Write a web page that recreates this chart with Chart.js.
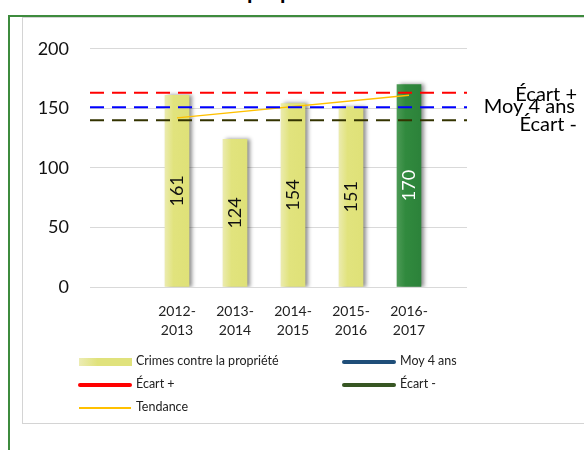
<!DOCTYPE html>
<html>
<head>
<meta charset="utf-8">
<script src="https://cdn.jsdelivr.net/npm/chart.js@4.4.1/dist/chart.umd.min.js"></script>
<style>
  body { margin: 0; width: 584px; height: 450px; overflow: hidden; background: #fff; position: relative; font-family: Lato, sans-serif; }
  #title { position: absolute; top: -20px; left: 247px; font: bold 22px/22px Lato, sans-serif; color: #000; white-space: nowrap; }
  #frame { position: absolute; left: 8px; top: 15px; width: 620px; height: 480px; border: 2px solid #3d8b3d; }
  #box { position: absolute; left: 22px; top: 17px; width: 620px; height: 405px; border: 1.5px solid #d4d4d4; }
  #wrap { position: absolute; left: 22px; top: 17px; width: 562px; height: 340px; }
  .item { position: absolute; font-size: 12.5px; line-height: 16px; color: #222; white-space: nowrap; }
  .sw { position: absolute; }
</style>
</head>
<body>
<div id="title">propriété</div>
<div id="frame"></div>
<div id="box"></div>
<div id="wrap"><canvas id="chart" width="562" height="340"></canvas></div>
<div id="legend"></div>
<script>
const categories = ["2012-2013", "2013-2014", "2014-2015", "2015-2016", "2016-2017"];
const crimes = [161, 124, 154, 151, 170];
const moy4ans = 151;
const ecartPlus = 163;
const ecartMoins = 140;
const tendance = [142, 161];
const yTicks = [0, 50, 100, 150, 200];

const X_MIN = -0.5;
const X_MAX = 6;
const lastIndex = crimes.length - 1;

function barFill(c) {
  const chart = c.chart;
  if (!chart.chartArea) return "#e0e27c";
  const x = chart.scales.x.getPixelForValue(c.dataIndex + 1);
  const g = chart.ctx.createLinearGradient(x - 12, 0, x + 12, 0);
  if (c.dataIndex === lastIndex) {
    g.addColorStop(0, "#4c9a55");
    g.addColorStop(0.35, "#318a3e");
    g.addColorStop(1, "#2c823a");
  } else {
    g.addColorStop(0, "#ebebad");
    g.addColorStop(0.35, "#e1e37d");
    g.addColorStop(1, "#dfe178");
  }
  return g;
}

function flat(v) {
  return [{ x: X_MIN, y: v }, { x: X_MAX, y: v }];
}

const shadowPlugin = {
  id: "shadow",
  beforeDatasetDraw(chart, args) {
    if (args.index !== 0) return;
    const c = chart.ctx;
    c.save();
    c.shadowColor = "rgba(0,0,0,0.45)";
    c.shadowBlur = 4;
    c.shadowOffsetX = 3;
    c.shadowOffsetY = 0;
  },
  afterDatasetDraw(chart, args) {
    if (args.index === 0) chart.ctx.restore();
  },
};

const labelPlugin = {
  id: "labels",
  afterDatasetsDraw(chart) {
    const c = chart.ctx;
    const y = chart.scales.y;
    c.save();
    c.font = "18px Lato";
    c.textAlign = "center";
    c.textBaseline = "middle";
    chart.getDatasetMeta(0).data.forEach((bar, i) => {
      c.save();
      c.translate(bar.x, (bar.y + bar.base) / 2);
      c.rotate(-Math.PI / 2);
      c.fillStyle = i === lastIndex ? "#fff" : "#111";
      c.fillText(String(crimes[i]), 0, 0);
      c.restore();
    });
    // labels at the right end of the reference lines
    c.font = "20px Lato";
    c.textAlign = "right";
    c.fillStyle = "#000";
    c.fillText("Écart +", chart.width - 7, y.getPixelForValue(ecartPlus) + 2);
    c.fillText("Moy 4 ans", chart.width - 9, y.getPixelForValue(moy4ans) - 1);
    c.fillText("Écart -", chart.width - 7, y.getPixelForValue(ecartMoins) + 4);
    c.restore();
  },
};

const chart = new Chart(document.getElementById("chart"), {
  type: "bar",
  data: {
    datasets: [
      {
        label: "Crimes contre la propriété",
        data: crimes.map((v, i) => ({ x: i + 1, y: v })),
        backgroundColor: barFill,
        barThickness: 24,
        order: 1,
        legendKind: "bar",
        legendColor: "#e0e27c",
      },
      {
        type: "line",
        label: "Moy 4 ans",
        data: flat(moy4ans),
        borderColor: "#0000ff",
        borderWidth: 2,
        borderDash: [14, 8],
        pointRadius: 0,
        legendColor: "#1f4e79",
      },
      {
        type: "line",
        label: "Écart +",
        data: flat(ecartPlus),
        borderColor: "#ff0000",
        borderWidth: 2,
        borderDash: [14, 8],
        pointRadius: 0,
        legendColor: "#ff0000",
      },
      {
        type: "line",
        label: "Écart -",
        data: flat(ecartMoins),
        borderColor: "#333300",
        borderWidth: 2,
        borderDash: [14, 8],
        pointRadius: 0,
        legendColor: "#375623",
      },
      {
        type: "line",
        label: "Tendance",
        data: [{ x: 1, y: tendance[0] }, { x: crimes.length, y: tendance[1] }],
        borderColor: "#ffc000",
        borderWidth: 1.5,
        pointRadius: 0,
        legendColor: "#ffc000",
        legendKind: "thin",
      },
    ],
  },
  options: {
    responsive: false,
    animation: false,
    layout: { padding: { top: 28, right: 117, left: 0, bottom: 0 } },
    plugins: { legend: { display: false }, tooltip: { enabled: false } },
    scales: {
      x: {
        type: "linear",
        offset: false,
        min: X_MIN,
        max: X_MAX,
        grid: { display: false, drawTicks: false },
        border: { display: false },
        afterBuildTicks: (s) => { s.ticks = categories.map((c, i) => ({ value: i + 1 })); },
        afterFit: (s) => { s.height = 70; },
        ticks: {
          padding: 15,
          color: "#222",
          font: { family: "Lato", size: 14, lineHeight: 1.36 },
          maxRotation: 0,
          autoSkip: false,
          callback: (v) => {
            const c = categories[v - 1];
            if (!c) return "";
            const p = c.split("-");
            return [p[0] + "-", p[1]];
          },
        },
      },
      y: {
        min: 0,
        max: 200,
        afterBuildTicks: (s) => { s.ticks = yTicks.map((v) => ({ value: v })); },
        afterFit: (s) => { s.width = 68; },
        grid: { color: "#d9d9d9", lineWidth: 1, drawTicks: false },
        border: { display: false },
        ticks: { padding: 21, color: "#111", font: { family: "Lato", size: 18 } },
      },
    },
  },
  plugins: [shadowPlugin, labelPlugin],
});

// two-column legend under the chart
const legend = document.getElementById("legend");
const colX = [79, 343];
const rowY = [362, 385, 408];
chart.data.datasets.forEach((ds, i) => {
  const x = colX[i % 2];
  const y = rowY[Math.floor(i / 2)];
  const sw = document.createElement("div");
  sw.className = "sw";
  if (ds.legendKind === "bar") {
    sw.style.cssText = `left:${x}px;top:${y - 4}px;width:53px;height:8px;background:linear-gradient(90deg,#ececb4,${ds.legendColor} 35%);`;
  } else if (ds.legendKind === "thin") {
    sw.style.cssText = `left:${x}px;top:${y - 1}px;width:52px;height:2px;background:${ds.legendColor};`;
  } else {
    sw.style.cssText = `left:${x - 1}px;top:${y - 2}px;width:54px;height:4px;border-radius:2px;background:${ds.legendColor};`;
  }
  legend.appendChild(sw);
  const t = document.createElement("div");
  t.className = "item";
  t.textContent = ds.label;
  t.style.left = x + 57 + "px";
  t.style.top = y - 9 + "px";
  legend.appendChild(t);
});
</script>
</body>
</html>
